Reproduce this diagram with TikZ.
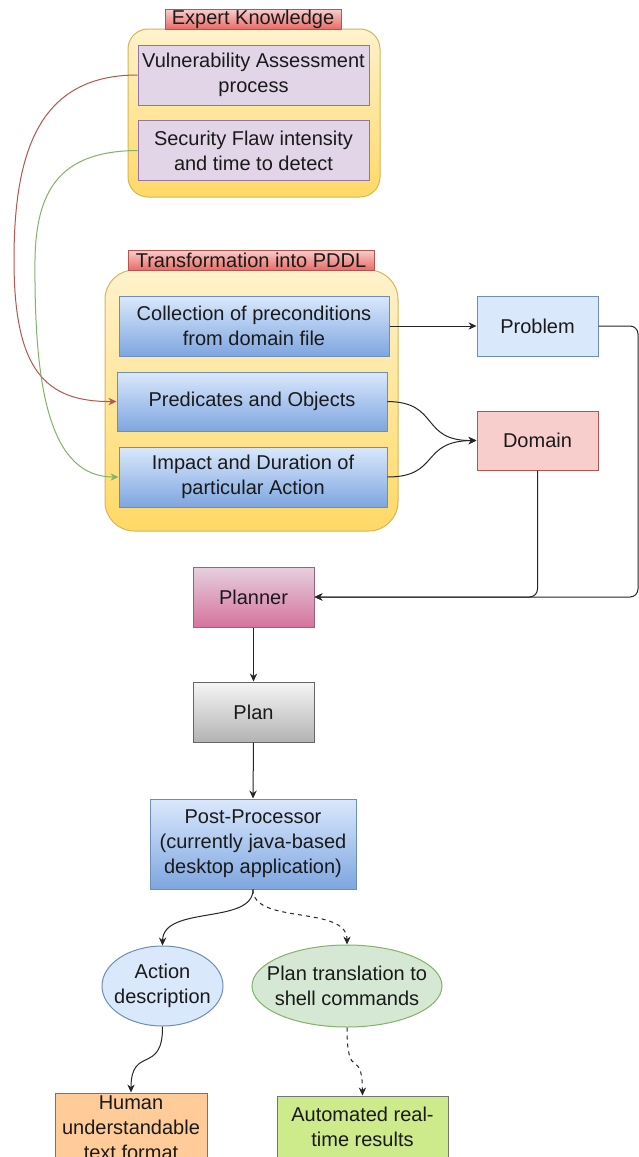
\documentclass[tikz,border=0pt]{standalone}
\usepackage{fontspec}
\setmainfont{Liberation Sans}
\usetikzlibrary{shapes.geometric,arrows.meta}
\definecolor{yelA}{HTML}{FFF2CC}\definecolor{yelB}{HTML}{FFD966}\definecolor{yelD}{HTML}{D6B656}
\definecolor{bluA}{HTML}{DAE8FC}\definecolor{bluB}{HTML}{7EA6E0}\definecolor{bluD}{HTML}{6C8EBF}
\definecolor{redA}{HTML}{F8CECC}\definecolor{redB}{HTML}{EA6B66}\definecolor{redD}{HTML}{B85450}
\definecolor{purA}{HTML}{E1D5E7}\definecolor{purD}{HTML}{9673A6}
\definecolor{pinA}{HTML}{E6D0DE}\definecolor{pinB}{HTML}{D5739D}\definecolor{pinD}{HTML}{996185}
\definecolor{gryA}{HTML}{F5F5F5}\definecolor{gryB}{HTML}{B3B3B3}\definecolor{gryD}{HTML}{666666}
\definecolor{grnA}{HTML}{D5E8D4}\definecolor{grnD}{HTML}{82B366}
\definecolor{orgA}{HTML}{FFCC99}\definecolor{limA}{HTML}{CDEB8B}\definecolor{dkD}{HTML}{36393D}
\definecolor{txt}{HTML}{1A1A1A}
\tikzset{
  base/.style={rectangle, inner sep=0pt, align=center, text=txt, line width=0.75pt},
  lab/.style={base, top color=redA, bottom color=redB, draw=redD},
  cont/.style={base, top color=yelA, bottom color=yelB, draw=yelD},
  purbox/.style={base, fill=purA, draw=purD, minimum width=173.25pt, minimum height=45pt},
  blugrad/.style={base, top color=bluA, bottom color=bluB, draw=bluD},
  ell/.style={ellipse, inner sep=0pt, line width=0.75pt},
  arr/.style={-{Stealth[length=6pt,width=5.5pt]}, line width=0.75pt, draw=black!85},
  dasharr/.style={arr, dashed},
}
\begin{document}
\begin{tikzpicture}[x=0.75pt,y=-0.75pt,font=\fontsize{15}{18.75}\selectfont]
\useasboundingbox (0,0) rectangle (639,1157);
\clip (0,0) rectangle (639,1157);
\fill[white] (0,0) rectangle (639,1157);
% Expert knowledge
\node[cont, rounded corners=15pt, minimum width=189pt, minimum height=126pt] (c1) at (254,113) {};
\node[lab, minimum width=132pt, minimum height=15pt] (ek) at (253,19) {Expert Knowledge};
\node[purbox] (vuln) at (253.5,75) {Vulnerability Assessment\\process};
\node[purbox] (sec) at (253.5,150.5) {Security Flaw intensity\\and time to detect};
% Transformation
\node[cont, rounded corners=22pt, minimum width=219.75pt, minimum height=195.75pt] (c2) at (251.5,400.5) {};
\node[lab, minimum width=184.5pt, minimum height=15pt] (tp) at (251,260) {Transformation into PDDL};
\node[blugrad, minimum width=202.5pt, minimum height=45pt] (coll) at (254,326) {Collection of preconditions\\from domain file};
\node[blugrad, minimum width=202.5pt, minimum height=44.25pt] (pred) at (252,401.5) {Predicates and Objects};
\node[blugrad, minimum width=201pt, minimum height=45pt] (imp) at (253,477) {Impact and Duration of\\particular Action};
% Problem / Domain
\node[base, fill=bluA, draw=bluD, minimum width=90.75pt, minimum height=45pt] (prob) at (537.5,326) {Problem};
\node[base, fill=redA, draw=redD, minimum width=90.75pt, minimum height=44.25pt] (dom) at (537.5,440.5) {Domain};
% Planner / Plan / Post
\node[base, top color=pinA, bottom color=pinB, draw=pinD, minimum width=90.75pt, minimum height=45pt] (planner) at (253.5,597) {Planner};
\node[base, top color=gryA, bottom color=gryB, draw=gryD, minimum width=90.75pt, minimum height=45pt] (plan) at (253.5,712) {Plan};
\node[blugrad, minimum width=154.5pt, minimum height=67.5pt] (post) at (253,844) {Post-Processor\\(currently java-based\\desktop application)};
% Ellipses
\node[ell, fill=bluA, draw=bluD, minimum width=90.75pt, minimum height=60pt] (act) at (162.5,986) {};
\node[base, draw=none] (actt) at (act.center) {Action\\description};
\node[ell, fill=grnA, draw=grnD, minimum width=142.5pt, minimum height=61.5pt] (ptr) at (347,986) {};
\node[base, draw=none] (ptrt) at (ptr.center) {Plan translation to\\shell commands};
% Bottom boxes
\node[base, fill=orgA, draw=dkD!70, minimum width=114pt, minimum height=52.5pt] (hum) at (131,1128) {Human\\understandable\\text format};
\node[base, fill=limA, draw=dkD!70, minimum width=128.25pt, minimum height=46.5pt] (auto) at (362.5,1127) {Automated real-\\time results};
% Connectors
\draw[arr, draw=redD, -{Stealth[length=6pt,width=5.5pt]}] (vuln.west) .. controls (40,75) and (14,150) .. (14,260) .. controls (14,370) and (45,402) .. (pred.west);
\draw[arr, draw=grnD] (sec.west) .. controls (60,151) and (36,190) .. (35,260) .. controls (34,390) and (50,477) .. (imp.west);
\draw[arr] (coll.east) -- (prob.west);
\draw[arr] (pred.east) .. controls (440,402) and (420,441) .. (dom.west);
\draw[arr] (imp.east) .. controls (440,477) and (420,441) .. (dom.west);
\draw[arr, rounded corners=6pt] (dom.south) |- (planner.east);
\draw[arr, rounded corners=6pt] (prob.east) -- (638,326) |- (planner.east);
\draw[arr] (planner.south) -- (plan.north);
\draw[arr] (plan.south) -- (post.north);
\draw[arr] (post.south) .. controls (253,925) and (163,905) .. (act.north);
\draw[dasharr] (post.south) .. controls (253,925) and (347,905) .. (ptr.north);
\draw[arr] (act.south) .. controls (163,1075) and (131,1045) .. (hum.north);
\draw[dasharr] (ptr.south) .. controls (347,1085) and (362,1045) .. (auto.north);
\end{tikzpicture}
\end{document}
